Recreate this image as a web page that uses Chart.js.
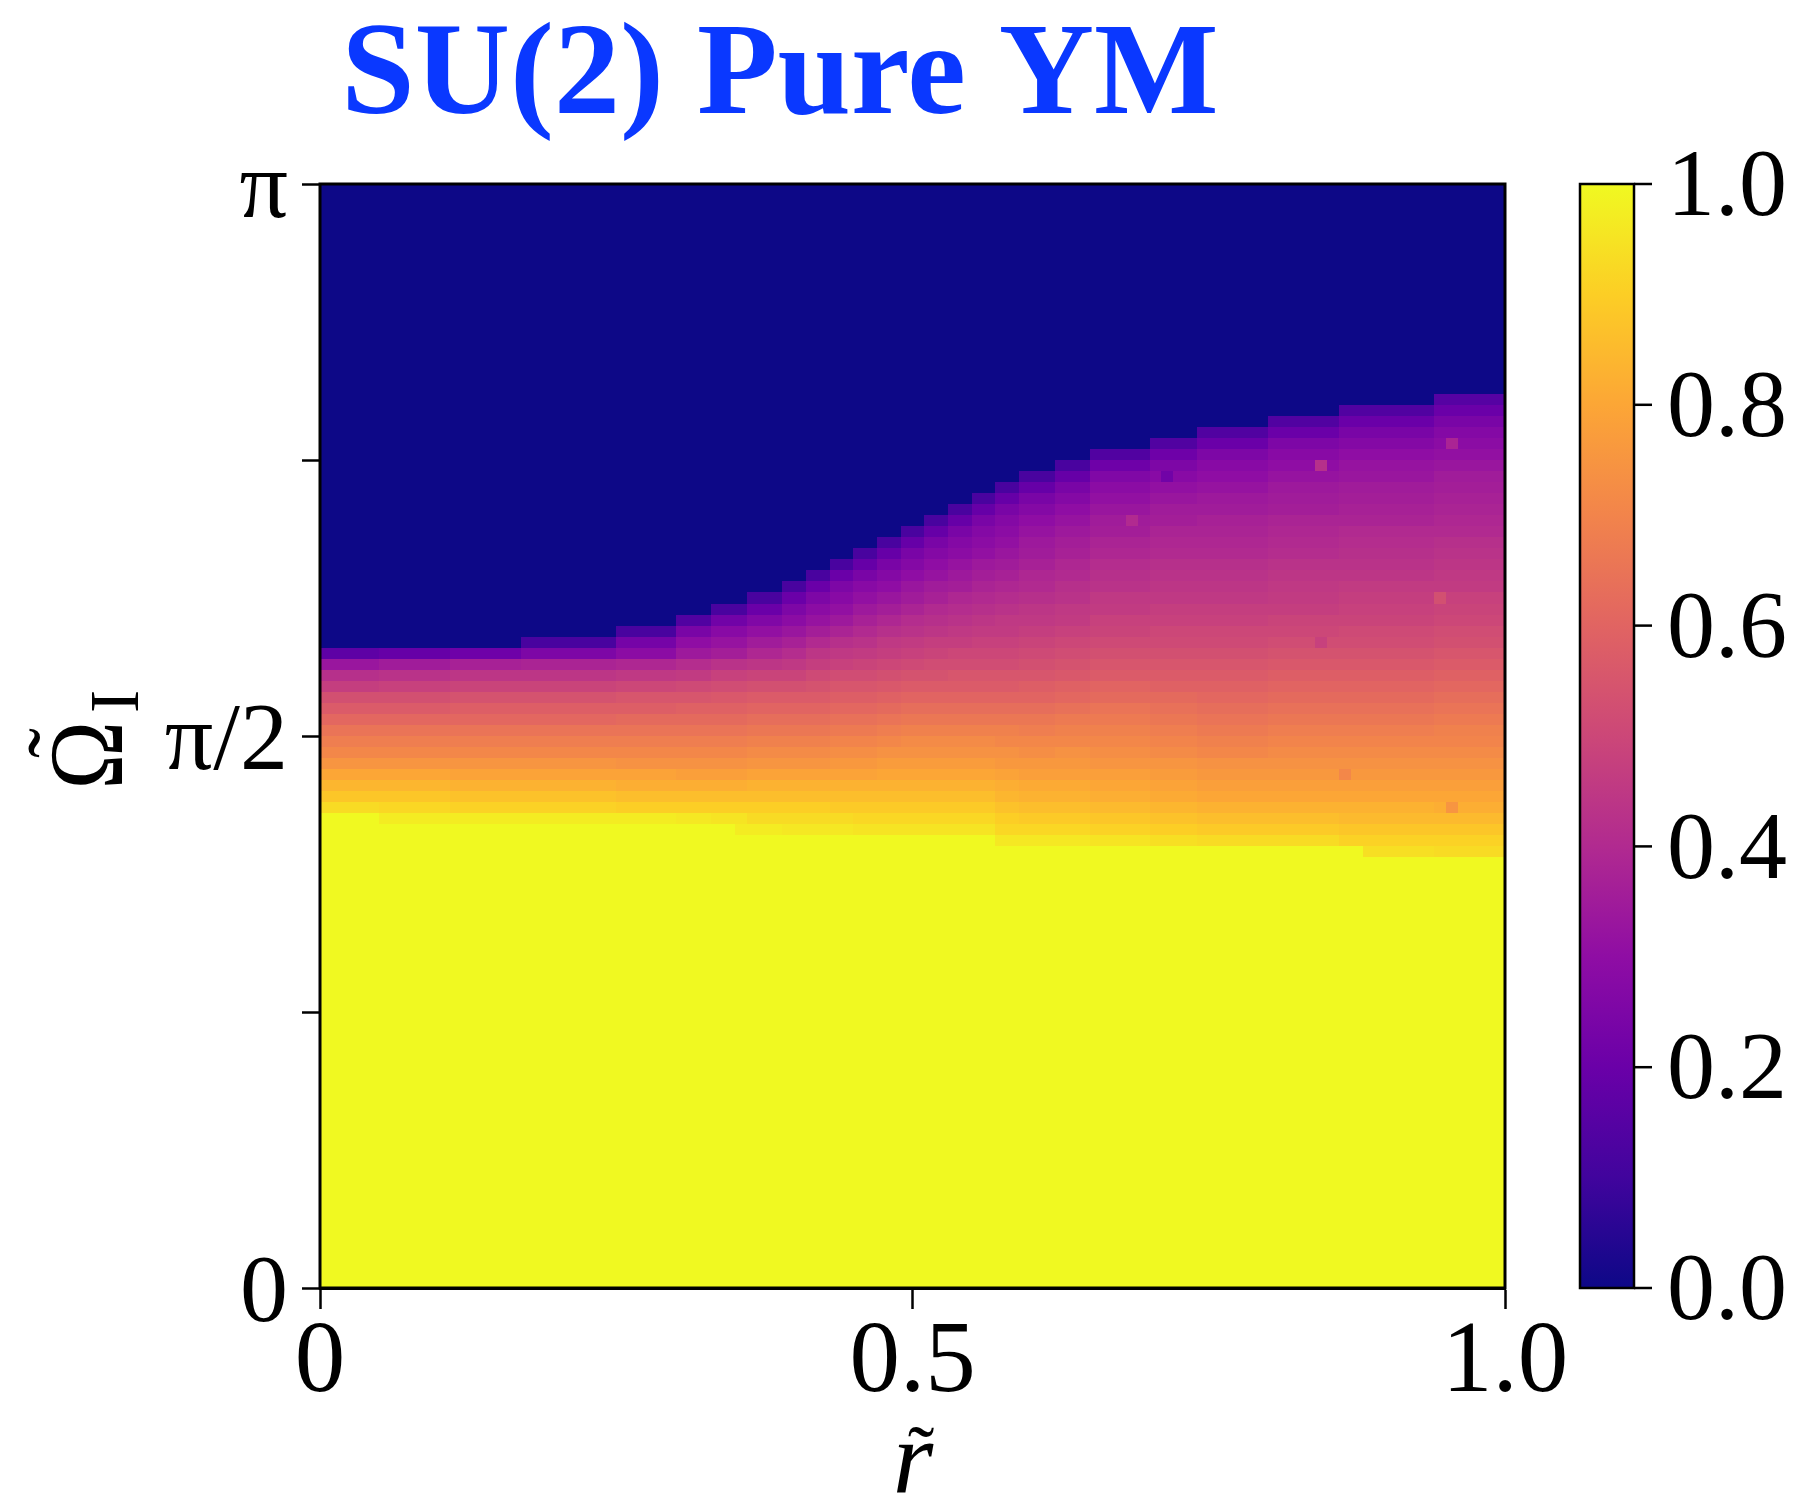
<!DOCTYPE html>
<html>
<head>
<meta charset="utf-8">
<script src="https://cdn.jsdelivr.net/npm/chart.js@4.4.1/dist/chart.umd.min.js"></script>
<style>
  html, body { margin: 0; padding: 0; background: #fff; }
  canvas { display: block; }
</style>
</head>
<body>
<canvas id="phaseChart" width="1803" height="1496"></canvas>
<script>
// 100 x 100 grid: r in [0, 1], Omega_I in [0, pi]; rows are counted from the top (row 0 = pi)
const nR = 100;
const nOmega = 100;

// first non-dark row in every column
const upperEdge = [
  42,42,42,42,42,42,42,42,42,42, 42,42,42,42,42,42,42,41,41,41,
  41,41,41,41,41,40,40,40,40,40, 39,39,39,38,38,38,37,37,37,36,
  36,35,35,34,34,33,33,32,32,31, 31,30,30,29,29,28,28,27,27,26,
  26,26,25,25,25,24,24,24,24,24, 23,23,23,23,22,22,22,22,22,22,
  21,21,21,21,21,21,20,20,20,20, 20,20,20,20,19,19,19,19,19,19
];

// first row that is fully saturated (1.0) in every column
const lowerEdge = [
  57,57,57,57,57,58,58,58,58,58, 58,58,58,58,58,58,58,58,58,58,
  58,58,58,58,58,58,58,58,58,58, 58,58,58,58,58,59,59,59,59,59,
  59,59,59,59,59,59,59,59,59,59, 59,59,59,59,59,59,59,60,60,60,
  60,60,60,60,60,60,60,60,60,60, 60,60,60,60,60,60,60,60,60,60,
  60,60,60,60,60,60,60,60,61,61, 61,61,61,61,61,61,61,61,61,61
];

// transition band: columns grouped in runs that share a top edge,
// values (%) listed from the top edge downwards
const runFirstCol = [0, 5, 11, 17, 25, 30, 33, 36, 39, 41, 43, 45, 47,
                     49, 51, 53, 55, 57, 59, 62, 65, 70, 74, 80, 86, 94];
const runValues = [
  [17,33,42,47,53,57,61,65,68,71,75,80,84,88,93],
  [19,35,43,48,53,57,61,65,68,71,75,80,84,88,92,97],
  [21,37,44,49,54,58,61,65,68,71,75,79,83,87,91,97],
  [12,25,38,44,49,54,58,61,65,68,71,75,79,83,87,91,97],
  [12,23,29,39,45,50,55,58,62,65,68,71,74,79,82,86,90,97],
  [14,24,30,34,41,46,51,55,59,62,65,68,71,74,78,82,86,90,96],
  [12,22,28,32,36,43,48,52,56,59,62,65,68,71,74,78,82,86,90,95,97],
  [12,20,26,31,35,39,44,49,53,57,60,63,66,69,72,75,79,83,86,90,93,97],
  [12,20,25,29,33,37,41,45,49,53,57,60,63,66,69,72,75,79,83,86,90,93,96],
  [12,20,25,29,32,36,40,44,47,51,54,57,60,63,66,69,72,75,79,83,86,90,93,96],
  [12,20,25,28,31,34,38,42,45,48,52,55,58,61,64,67,70,73,76,79,83,86,89,93,96],
  [12,19,24,28,31,34,37,40,43,46,49,52,55,58,61,64,67,70,73,76,79,83,86,89,92,95],
  [12,19,24,27,30,33,36,39,42,45,47,50,53,56,59,62,65,68,71,74,77,80,83,86,89,92,95],
  [12,19,24,27,30,33,35,38,41,43,46,48,51,54,57,60,63,66,69,72,74,77,80,83,86,89,92,95],
  [12,19,24,27,30,32,35,37,40,42,44,47,49,52,54,57,60,63,66,69,72,74,77,80,83,86,89,92,95],
  [12,19,24,27,29,32,34,36,39,41,43,45,47,50,52,55,57,60,63,66,69,72,74,77,80,83,86,89,92,95],
  [12,19,24,27,29,31,34,36,38,40,42,44,46,48,50,52,55,57,60,63,66,69,72,74,77,80,83,86,89,92,95],
  [12,19,24,27,29,31,33,35,37,39,41,43,45,46,48,50,52,55,57,60,63,66,69,71,74,76,79,82,84,87,90,92,96],
  [12,19,24,27,30,32,34,35,37,39,40,42,44,45,47,49,51,53,55,58,60,63,66,68,71,73,76,78,81,83,86,89,92,96],
  [12,19,24,27,30,32,34,36,37,39,40,42,43,45,46,48,50,52,54,56,59,61,64,67,69,71,74,76,78,81,83,86,89,92,96],
  [14,21,26,29,31,33,35,36,38,39,41,42,43,45,46,48,49,51,53,55,57,60,62,65,67,69,71,73,75,78,80,82,85,88,91,95],
  [14,21,25,28,31,33,35,36,38,39,40,42,43,44,45,47,48,50,51,53,55,57,59,62,64,66,68,70,72,75,77,79,81,84,87,90,94],
  [14,20,25,28,30,32,34,35,37,38,39,40,42,43,44,45,47,48,50,51,53,55,57,59,61,63,65,67,69,71,74,76,78,80,83,86,89,93],
  [14,20,25,28,30,32,34,35,36,38,39,40,41,43,44,45,46,47,49,50,52,54,56,58,60,62,64,66,68,70,72,74,76,78,80,83,86,89,93],
  [14,20,24,27,30,32,33,35,36,37,38,40,41,42,43,44,46,47,48,49,51,52,54,56,58,60,62,64,66,68,70,72,74,76,78,80,83,85,88,91,94],
  [15,20,24,27,29,31,33,35,36,37,38,39,40,42,43,44,45,46,48,49,50,52,53,55,57,59,61,63,65,67,69,70,72,74,76,78,80,82,85,88,91,93]
];

// isolated cells that stand out from their neighbours: [column, row, %]
const specks = [
  [84, 25, 42], [71, 26, 22], [68, 30, 40], [95, 23, 38],
  [94, 37, 53], [84, 41, 48], [86, 53, 71], [95, 56, 75]
];

const xTickValues = [0, 0.5, 1];
const xTickLabels = ['0', '0.5', '1.0'];
const yTickValues = [0, Math.PI / 4, Math.PI / 2, 3 * Math.PI / 4, Math.PI];
const yTickLabels = ['0', '', 'π/2', '', 'π'];
const cbTickValues = [0, 0.2, 0.4, 0.6, 0.8, 1.0];

// plasma colormap
const plasmaStops = ['#0d0887', '#41049d', '#6a00a8', '#8f0da4', '#b12a90', '#cc4778',
                     '#e16462', '#f2844b', '#fca636', '#fcce25', '#f0f921'];
const plasmaRgb = plasmaStops.map(h => [1, 3, 5].map(i => parseInt(h.substr(i, 2), 16)));

function plasma(v) {
  const s = Math.max(0, Math.min(1, v)) * (plasmaRgb.length - 1);
  const i = Math.min(plasmaRgb.length - 2, Math.floor(s));
  const f = s - i;
  const c = plasmaRgb[i].map((a, k) => Math.round(a + (plasmaRgb[i + 1][k] - a) * f));
  return `rgb(${c[0]},${c[1]},${c[2]})`;
}

function runOf(c) {
  let r = 0;
  while (r + 1 < runFirstCol.length && runFirstCol[r + 1] <= c) r++;
  return runValues[r];
}

function cellValue(c, t) {
  if (t < upperEdge[c]) return 0;
  if (t >= lowerEdge[c]) return 1;
  const vals = runOf(c);
  return vals[Math.min(vals.length - 1, t - upperEdge[c])] / 100;
}

const grid = [];
for (let c = 0; c < nR; c++) {
  grid.push([]);
  for (let t = 0; t < nOmega; t++) grid[c].push(cellValue(c, t));
}
specks.forEach(([c, t, v]) => { grid[c][t] = v / 100; });

const cells = [];
for (let c = 0; c < nR; c++) {
  for (let t = 0; t < nOmega; t++) {
    cells.push({ x: (c + 0.5) / nR, y: Math.PI * (nOmega - t - 0.5) / nOmega, v: grid[c][t] });
  }
}

const serif = '"Liberation Serif", "Times New Roman", serif';

const heatmapPlugin = {
  id: 'heatmap',
  beforeDatasetsDraw(chart) {
    const { ctx, chartArea: a, scales: { x, y } } = chart;
    const hx = 0.5 / nR, hy = 0.5 * Math.PI / nOmega;
    ctx.save();
    ctx.beginPath();
    ctx.rect(a.left, a.top, a.width, a.height);
    ctx.clip();
    chart.data.datasets[0].data.forEach(p => {
      const x0 = Math.round(x.getPixelForValue(p.x - hx));
      const x1 = Math.round(x.getPixelForValue(p.x + hx));
      const y0 = Math.round(y.getPixelForValue(p.y + hy));
      const y1 = Math.round(y.getPixelForValue(p.y - hy));
      ctx.fillStyle = plasma(p.v);
      ctx.fillRect(x0, y0, x1 - x0, y1 - y0);
    });
    ctx.restore();
  }
};

const decorPlugin = {
  id: 'decor',
  afterDraw(chart) {
    const { ctx, chartArea: a, scales } = chart;
    ctx.save();

    // frame round the map
    ctx.strokeStyle = '#000';
    ctx.lineWidth = 3;
    ctx.strokeRect(a.left, a.top, a.width, a.height);

    // colour bar
    const cb = scales.cb;
    const barL = cb.left + 75, barW = 54;
    const barT = cb.getPixelForValue(1), barB = cb.getPixelForValue(0);
    const g = ctx.createLinearGradient(0, barB, 0, barT);
    plasmaStops.forEach((s, i) => g.addColorStop(i / (plasmaStops.length - 1), s));
    ctx.fillStyle = g;
    ctx.fillRect(barL, barT, barW, barB - barT);
    ctx.lineWidth = 2.5;
    ctx.strokeRect(barL, barT, barW, barB - barT);
    cbTickValues.forEach(v => {
      const yy = cb.getPixelForValue(v);
      ctx.beginPath();
      ctx.moveTo(barL + barW, yy);
      ctx.lineTo(barL + barW + 18, yy);
      ctx.stroke();
    });

    // title
    ctx.fillStyle = '#0a38ff';
    ctx.font = `bold 132px ${serif}`;
    ctx.textAlign = 'center';
    ctx.textBaseline = 'alphabetic';
    ctx.fillText('SU(2) Pure YM', 780, 113);

    // x label: r with tilde
    ctx.fillStyle = '#000';
    ctx.font = `italic 104px ${serif}`;
    ctx.textAlign = 'center';
    ctx.fillText('r', 913, 1493);
    ctx.font = `80px ${serif}`;
    let m = ctx.measureText('˜');
    ctx.fillText('˜', 921, 1432 + (m.actualBoundingBoxAscent - m.actualBoundingBoxDescent) / 2);

    // y label: Omega with tilde, subscript I, rotated
    ctx.translate(122, 785);
    ctx.rotate(-Math.PI / 2);
    ctx.textAlign = 'left';
    ctx.font = `100px ${serif}`;
    m = ctx.measureText('Ω');
    const gw = m.actualBoundingBoxLeft + m.actualBoundingBoxRight;
    ctx.save();
    ctx.scale(60 / gw, 70 / m.actualBoundingBoxAscent);
    ctx.fillText('Ω', m.actualBoundingBoxLeft, 0);
    ctx.restore();
    ctx.font = `70px ${serif}`;
    ctx.fillText('I', 72, 16);
    ctx.font = `90px ${serif}`;
    m = ctx.measureText('˜');
    ctx.textAlign = 'center';
    ctx.fillText('˜', 42, -88 + (m.actualBoundingBoxAscent - m.actualBoundingBoxDescent) / 2);

    ctx.restore();
  }
};

const tickFont = size => ({ family: serif, size: size });

new Chart(document.getElementById('phaseChart'), {
  type: 'scatter',
  data: {
    datasets: [{ data: cells, pointRadius: 0, pointHoverRadius: 0 }]
  },
  options: {
    responsive: false,
    maintainAspectRatio: false,
    devicePixelRatio: 1,
    animation: false,
    events: [],
    layout: { padding: { top: 184, left: 0, right: 0, bottom: 0 } },
    plugins: { legend: { display: false }, tooltip: { enabled: false } },
    scales: {
      x: {
        type: 'linear', min: 0, max: 1,
        afterBuildTicks: s => { s.ticks = xTickValues.map(v => ({ value: v })); },
        afterFit: s => { s.height = 208; },
        ticks: {
          color: '#000', font: tickFont(101), padding: -5, maxRotation: 0,
          callback: (v, i) => xTickLabels[i]
        },
        grid: { drawOnChartArea: false, drawTicks: true, tickLength: 21, tickWidth: 2.5, tickColor: '#000' },
        border: { display: true, color: '#000', width: 3 }
      },
      y: {
        type: 'linear', min: 0, max: Math.PI,
        afterBuildTicks: s => { s.ticks = yTickValues.map(v => ({ value: v })); },
        afterFit: s => { s.width = 320; },
        ticks: {
          color: '#000', font: tickFont(96), padding: 14, labelOffset: 8,
          callback: (v, i) => yTickLabels[i]
        },
        grid: { drawOnChartArea: false, drawTicks: true, tickLength: 18, tickWidth: 2.5, tickColor: '#000' },
        border: { display: true, color: '#000', width: 3 }
      },
      cb: {
        type: 'linear', axis: 'y', position: 'right', min: 0, max: 1,
        afterBuildTicks: s => { s.ticks = cbTickValues.map(v => ({ value: v })); },
        afterFit: s => { s.width = 298; },
        ticks: {
          color: '#000', font: tickFont(96), padding: 12, labelOffset: 6,
          callback: v => v.toFixed(1)
        },
        grid: { display: false, drawTicks: true, tickLength: 150 },
        border: { display: false }
      }
    }
  },
  plugins: [heatmapPlugin, decorPlugin]
});
</script>
</body>
</html>
